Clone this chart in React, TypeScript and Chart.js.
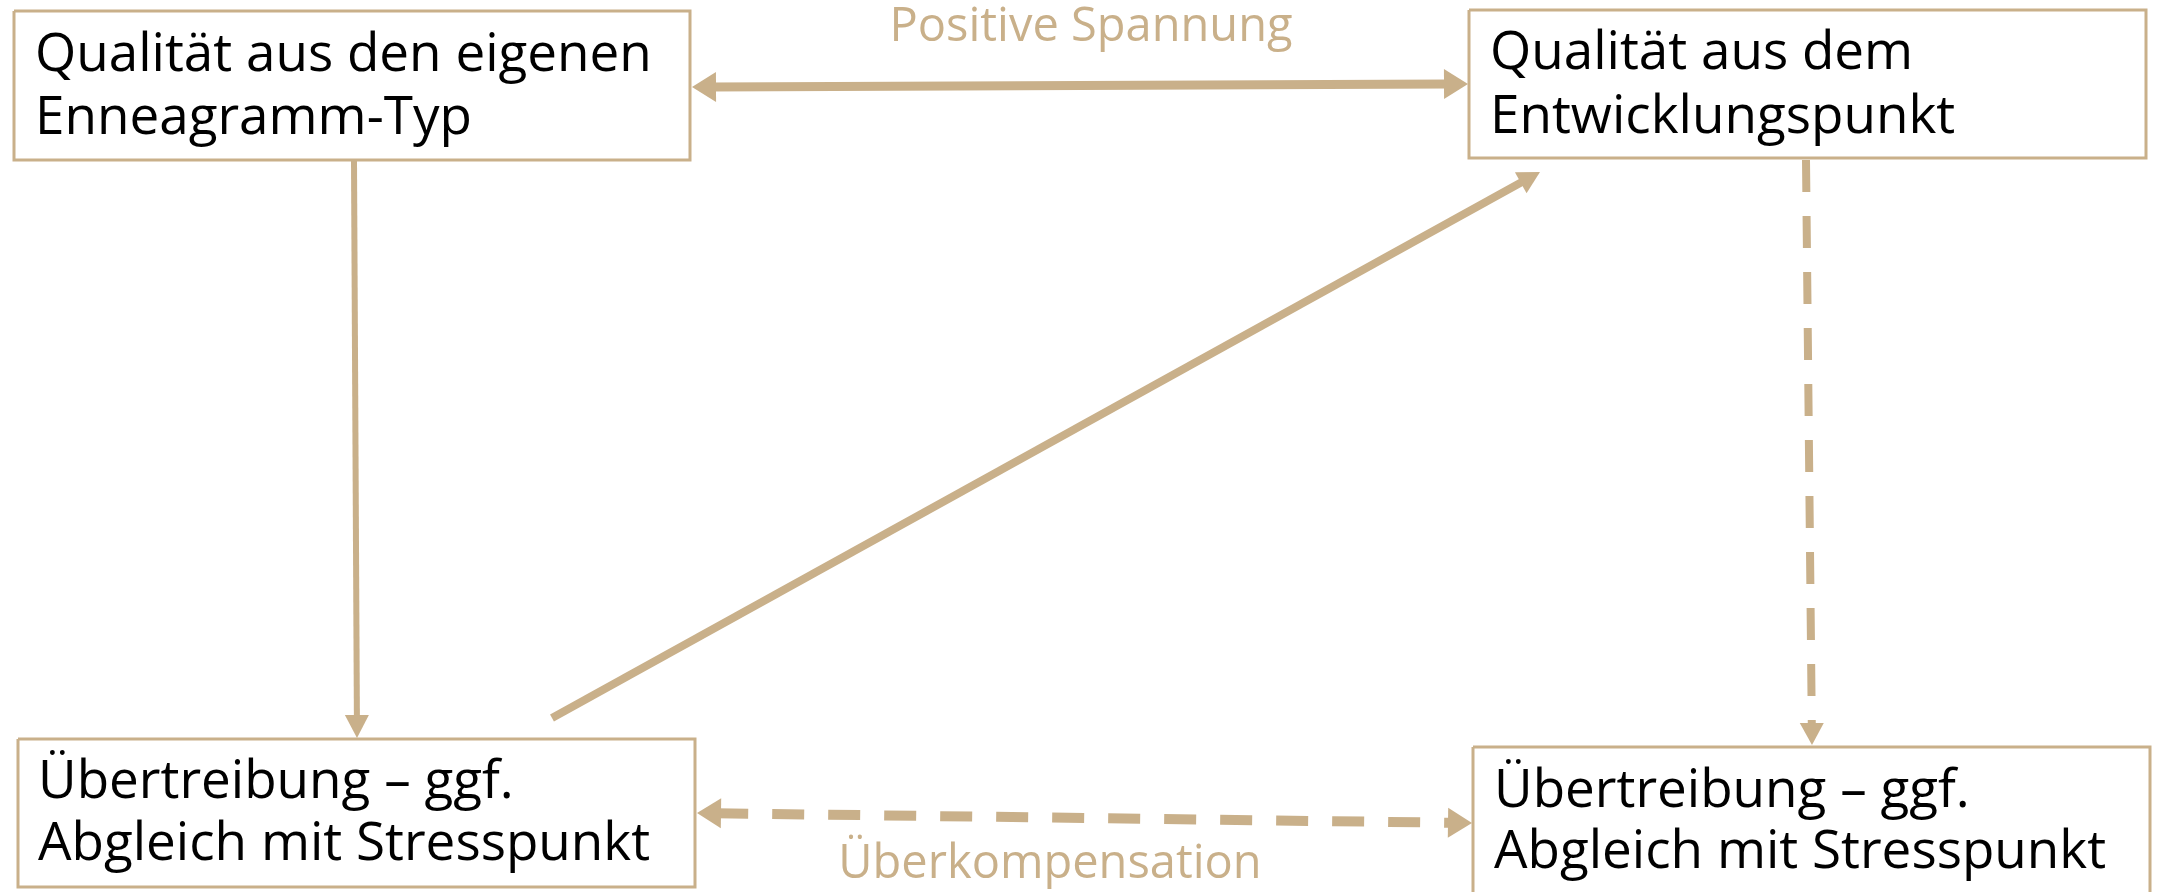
import React, { useEffect, useRef } from "react";
import { Chart, registerables } from "chart.js";

Chart.register(...registerables);

const W = 2157;
const H = 892;
const TAN = "#C9B08A";

// Boxes (diagram coordinates = pixel space of the picture)
const BOX_LINE1 = ["Qualität aus den eigenen", "Qualität aus dem", "Übertreibung – ggf.", "Übertreibung – ggf."];
const BOX_LINE2 = ["Enneagramm-Typ", "Entwicklungspunkt", "Abgleich mit Stresspunkt", "Abgleich mit Stresspunkt"];
const BOX_LEFT = [14, 1469, 18, 1473];
const BOX_TOP = [11, 10, 739, 747];
const BOX_RIGHT = [690, 2146, 695, 2150];
const BOX_BOTTOM = [160, 158, 887, 897];
const TEXT_X = [35, 1490, 38, 1494];
const TEXT_Y1 = [56, 54, 783, 792];
const TEXT_Y2 = [119, 118, 845, 853];

// Arrows
const ARROW_X1 = [692, 354, 552, 1806, 697];
const ARROW_Y1 = [87, 161, 718, 160, 813];
const ARROW_X2 = [1468, 357, 1540, 1812, 1472];
const ARROW_Y2 = [84, 738, 172, 745, 823];
const ARROW_HEAD_START = [true, false, false, false, true];
const ARROW_HEAD_END = [true, true, true, true, true];
const ARROW_DASHED = [false, false, false, true, true];
const ARROW_WIDTH = [9, 6, 8, 8, 10];
const HEAD_LEN = [24, 23, 22, 22, 24];
const HEAD_HALF = [15, 12, 12, 12, 15];

// Edge labels
const LABEL_TEXT = ["Positive Spannung", "Überkompensation"];
const LABEL_X = [1091, 1050];
const LABEL_Y = [28, 865];

function unit(i: number) {
  const dx = ARROW_X2[i] - ARROW_X1[i];
  const dy = ARROW_Y2[i] - ARROW_Y1[i];
  const l = Math.hypot(dx, dy);
  return [dx / l, dy / l];
}

function buildDatasets() {
  const ds: any[] = [];
  for (let i = 0; i < BOX_LEFT.length; i++) {
    ds.push({
      data: [
        { x: BOX_LEFT[i], y: BOX_TOP[i] },
        { x: BOX_RIGHT[i], y: BOX_TOP[i] },
        { x: BOX_RIGHT[i], y: BOX_BOTTOM[i] },
        { x: BOX_LEFT[i], y: BOX_BOTTOM[i] },
        { x: BOX_LEFT[i], y: BOX_TOP[i] },
      ],
      showLine: true,
      borderColor: TAN,
      borderWidth: 3,
      pointRadius: 0,
      borderJoinStyle: "miter",
      fill: false,
    });
  }
  for (let i = 0; i < ARROW_X1.length; i++) {
    const [ux, uy] = unit(i);
    const s = ARROW_HEAD_START[i] ? HEAD_LEN[i] * 0.8 : 0;
    const e = ARROW_HEAD_END[i] ? HEAD_LEN[i] * 0.8 : 0;
    ds.push({
      data: [
        { x: ARROW_X1[i] + ux * s, y: ARROW_Y1[i] + uy * s },
        { x: ARROW_X2[i] - ux * e, y: ARROW_Y2[i] - uy * e },
      ],
      showLine: true,
      borderColor: TAN,
      borderWidth: ARROW_WIDTH[i],
      borderDash: ARROW_DASHED[i] ? [32, 24] : [],
      borderCapStyle: "butt",
      pointRadius: 0,
      fill: false,
    });
  }
  return ds;
}

const diagramPlugin = {
  id: "diagram",
  afterDatasetsDraw(chart: any) {
    const { ctx, scales } = chart;
    const sx = scales.x;
    const sy = scales.y;
    const head = (tx: number, ty: number, ux: number, uy: number, len: number, half: number) => {
      const px = sx.getPixelForValue(tx);
      const py = sy.getPixelForValue(ty);
      const bx = px - ux * len;
      const by = py - uy * len;
      ctx.beginPath();
      ctx.moveTo(px, py);
      ctx.lineTo(bx - uy * half, by + ux * half);
      ctx.lineTo(bx + uy * half, by - ux * half);
      ctx.closePath();
      ctx.fill();
    };
    ctx.save();
    ctx.fillStyle = TAN;
    for (let i = 0; i < ARROW_X1.length; i++) {
      const [ux, uy] = unit(i);
      if (ARROW_HEAD_END[i]) head(ARROW_X2[i], ARROW_Y2[i], ux, uy, HEAD_LEN[i], HEAD_HALF[i]);
      if (ARROW_HEAD_START[i]) head(ARROW_X1[i], ARROW_Y1[i], -ux, -uy, HEAD_LEN[i], HEAD_HALF[i]);
    }
    ctx.textBaseline = "middle";
    ctx.textAlign = "left";
    ctx.fillStyle = "#000000";
    ctx.font = '400 53px "Open Sans"';
    for (let i = 0; i < BOX_LEFT.length; i++) {
      ctx.fillText(BOX_LINE1[i], sx.getPixelForValue(TEXT_X[i]), sy.getPixelForValue(TEXT_Y1[i]));
      ctx.fillText(BOX_LINE2[i], sx.getPixelForValue(TEXT_X[i]), sy.getPixelForValue(TEXT_Y2[i]));
    }
    ctx.textAlign = "center";
    ctx.fillStyle = TAN;
    ctx.font = '400 47px "Open Sans"';
    for (let i = 0; i < LABEL_TEXT.length; i++) {
      ctx.fillText(LABEL_TEXT[i], sx.getPixelForValue(LABEL_X[i]), sy.getPixelForValue(LABEL_Y[i]));
    }
    ctx.restore();
  },
};

export default function App() {
  const ref = useRef<HTMLCanvasElement | null>(null);
  useEffect(() => {
    if (!ref.current) return;
    const chart = new Chart(ref.current, {
      type: "scatter",
      data: { datasets: buildDatasets() },
      options: {
        animation: false,
        responsive: false,
        maintainAspectRatio: false,
        devicePixelRatio: 1,
        layout: { padding: 0 },
        plugins: { legend: { display: false }, tooltip: { enabled: false } },
        elements: { line: { tension: 0 } },
        scales: {
          x: { type: "linear", min: 0, max: W, display: false },
          y: { type: "linear", min: 0, max: H, reverse: true, display: false },
        },
      },
      plugins: [diagramPlugin],
    } as any);
    return () => chart.destroy();
  }, []);
  return (
    <div style={{ position: "fixed", left: 0, top: 0, width: W, height: H, background: "#ffffff" }}>
      <canvas ref={ref} width={W} height={H} style={{ width: W, height: H, display: "block" }} />
    </div>
  );
}
